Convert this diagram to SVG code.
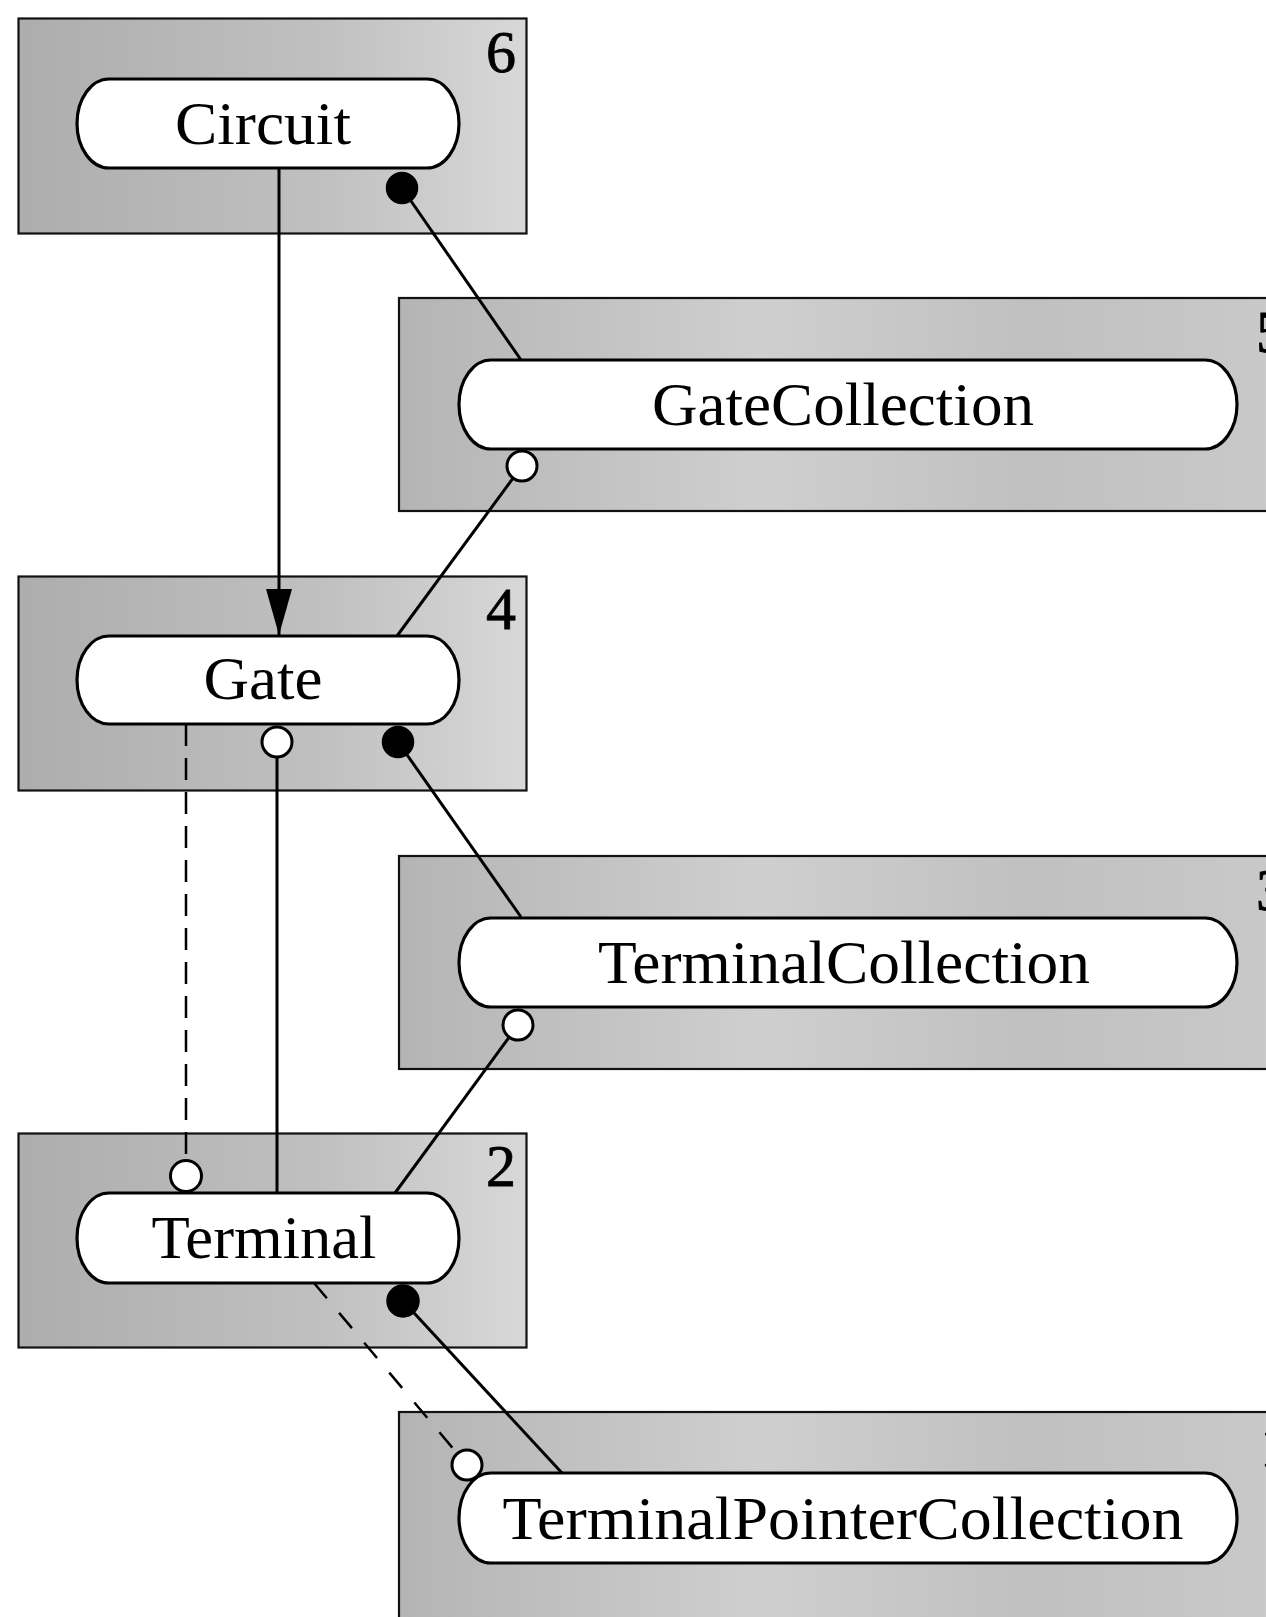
<svg xmlns="http://www.w3.org/2000/svg" width="1266" height="1617" viewBox="0 0 1266 1617">
<style>
.box{stroke:#111;stroke-width:2.2}
.boxL{fill:url(#gL)}
.boxR{fill:url(#gR)}
.pill{fill:#fff;stroke:#000;stroke-width:3.2}
.lbl{font-family:"Liberation Serif","Times New Roman",serif;font-size:62px;fill:#000;text-anchor:middle}
.num{font-family:"Liberation Serif","Times New Roman",serif;font-size:60px;fill:#000;stroke:#000;stroke-width:0.8}
.ln{stroke:#000;stroke-width:3;fill:none}
.dash{stroke:#000;stroke-width:2.5;fill:none;stroke-dasharray:22 12}
.dash2{stroke:#000;stroke-width:2.5;fill:none;stroke-dasharray:20 19}
.dotF{fill:#000;stroke:#000;stroke-width:1.5}
.dotO{fill:#fff;stroke:#000;stroke-width:3}
</style>
<defs>
<linearGradient id="gL" x1="0" y1="0" x2="1" y2="0">
<stop offset="0" stop-color="#adadad"/>
<stop offset="0.6" stop-color="#c0c0c0"/>
<stop offset="1" stop-color="#d8d8d8"/>
</linearGradient>
<linearGradient id="gR" x1="0" y1="0" x2="1" y2="0">
<stop offset="0" stop-color="#b4b4b4"/>
<stop offset="0.4" stop-color="#cfcfcf"/>
<stop offset="0.7" stop-color="#c0c0c0"/>
<stop offset="1" stop-color="#cacaca"/>
</linearGradient>
<marker id="arrow" markerUnits="userSpaceOnUse" markerWidth="48" markerHeight="28" refX="46" refY="13" orient="auto">
<path d="M0,0 L46,13 L0,26 z" fill="#000"/>
</marker>
</defs>
<rect width="1266" height="1617" fill="#fff"/>

<g id="node-circuit">
<rect class="box boxL" x="18.5" y="18.5" width="508" height="215"/>
<text class="num" x="516" y="72" text-anchor="end">6</text>
<rect class="pill" x="77" y="79" width="382" height="89" rx="32" ry="44.5"/>
<text class="lbl" x="263" y="144" textLength="176" lengthAdjust="spacingAndGlyphs">Circuit</text>
</g>

<g id="node-gatecollection">
<rect class="box boxR" x="399" y="298" width="900" height="213"/>
<text class="num" x="1256" y="352">5</text>
<rect class="pill" x="459" y="360" width="778" height="89" rx="32" ry="44.5"/>
<text class="lbl" x="843" y="425" textLength="382" lengthAdjust="spacingAndGlyphs">GateCollection</text>
</g>

<g id="node-gate">
<rect class="box boxL" x="18.5" y="576.5" width="508" height="214"/>
<text class="num" x="516" y="629" text-anchor="end">4</text>
<rect class="pill" x="77" y="636" width="382" height="88" rx="32" ry="44"/>
<text class="lbl" x="263" y="699" textLength="119" lengthAdjust="spacingAndGlyphs">Gate</text>
</g>

<g id="node-terminalcollection">
<rect class="box boxR" x="399" y="856" width="900" height="213"/>
<text class="num" x="1256" y="910">3</text>
<rect class="pill" x="459" y="918" width="778" height="89" rx="32" ry="44.5"/>
<text class="lbl" x="844" y="983" textLength="492" lengthAdjust="spacingAndGlyphs">TerminalCollection</text>
</g>

<g id="node-terminal">
<rect class="box boxL" x="18.5" y="1133.5" width="508" height="214"/>
<text class="num" x="516" y="1186" text-anchor="end">2</text>
<rect class="pill" x="77" y="1193" width="382" height="90" rx="32" ry="45"/>
<text class="lbl" x="264" y="1258" textLength="225" lengthAdjust="spacingAndGlyphs">Terminal</text>
</g>

<g id="node-terminalpointercollection">
<rect class="box boxR" x="399" y="1412" width="900" height="230"/>
<text class="num" x="1260" y="1466">1</text>
<rect class="pill" x="459" y="1473" width="778" height="90" rx="32" ry="45"/>
<text class="lbl" x="843" y="1539" textLength="681" lengthAdjust="spacingAndGlyphs">TerminalPointerCollection</text>
</g>

<g id="connectors">
<line class="ln" x1="279" y1="168" x2="279" y2="635" marker-end="url(#arrow)"/>
<line class="ln" x1="402" y1="188" x2="521" y2="360"/>
<circle class="dotF" cx="402" cy="188" r="15.5"/>
<line class="ln" x1="522" y1="466" x2="397" y2="636"/>
<circle class="dotO" cx="522" cy="466" r="15"/>
<line class="ln" x1="277" y1="742" x2="277" y2="1193"/>
<circle class="dotO" cx="277" cy="742" r="15"/>
<line class="dash" x1="186" y1="724" x2="186" y2="1160"/>
<circle class="dotO" cx="186" cy="1176" r="15.5"/>
<line class="ln" x1="398" y1="742" x2="521" y2="917"/>
<circle class="dotF" cx="398" cy="742" r="15.5"/>
<line class="ln" x1="518" y1="1025" x2="395" y2="1193"/>
<circle class="dotO" cx="518" cy="1025" r="15"/>
<line class="ln" x1="403" y1="1301" x2="562" y2="1473"/>
<circle class="dotF" cx="403" cy="1301" r="16"/>
<line class="dash2" x1="314" y1="1283" x2="456" y2="1452"/>
<circle class="dotO" cx="467" cy="1465" r="15"/>
</g>
</svg>
